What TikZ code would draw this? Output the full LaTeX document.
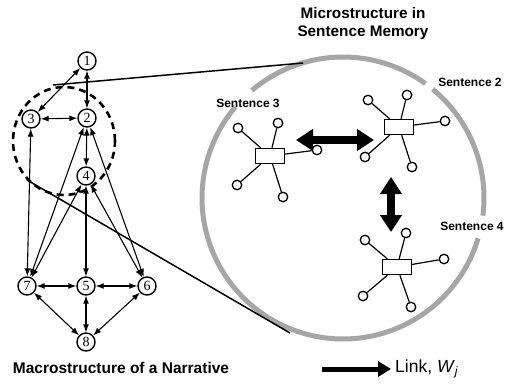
\documentclass[tikz,border=0pt]{standalone}
\usepackage{fontspec}
\setmainfont{Liberation Sans}
\newfontfamily\serifnum{Liberation Serif}
\usetikzlibrary{arrows.meta,shapes.geometric}
\begin{document}
\begin{tikzpicture}[x=1pt,y=-1pt,
  gnode/.style={draw, circle, line width=1.4pt, minimum size=18pt, inner sep=0pt, font=\serifnum\fontsize{14}{14}\selectfont},
  gedge/.style={{Latex[length=8pt,width=6pt]}-{Latex[length=8pt,width=6pt]}, line width=1.1pt},
  sbox/.style={draw, rectangle, line width=1.4pt, minimum width=29pt, minimum height=15pt, inner sep=0pt},
  sat/.style={draw, circle, line width=1.3pt, minimum size=9.5pt, inner sep=0pt},
  spoke/.style={line width=1.2pt},
  bigarrow/.style={line width=8pt, {Triangle[length=17pt,width=21pt]}-{Triangle[length=17pt,width=21pt]}},
  lbl/.style={font=\bfseries\fontsize{12}{12}\selectfont, inner sep=0pt},
  ttl/.style={font=\bfseries\fontsize{15.3}{18}\selectfont, align=center, inner sep=0pt},
  conn/.style={line width=1.5pt},
  halo/.style={line width=5pt, black!35},
]
\useasboundingbox (0,0) rectangle (506,391);

% big memory circle (broken where labels sit)
\draw[halo] plot[domain=-130.3:-54.2, samples=60] ({343+141*cos(\x)},{198+141*sin(\x)});
\draw[halo] plot[domain=16.6:220.4, samples=120] ({343+141*cos(\x)},{198+141*sin(\x)});
\draw[halo] plot[domain=-50.5:7.2, samples=60] ({343+141*cos(\x)},{198+141*sin(\x)});

% macrostructure graph
\node[gnode] (n1) at (87,61) {1};
\node[gnode] (n2) at (87,118) {2};
\node[gnode] (n3) at (31,119) {3};
\node[gnode] (n4) at (86,176) {4};
\node[gnode] (n5) at (86,286) {5};
\node[gnode] (n6) at (147,286) {6};
\node[gnode] (n7) at (27,286) {7};
\node[gnode] (n8) at (86,342) {8};

\foreach \a/\b in {n1/n3, n1/n2, n3/n2, n2/n4, n3/n7, n2/n7, n4/n7, n2/n6, n4/n6, n4/n5, n7/n5, n5/n6, n7/n8, n5/n8, n6/n8}
  \draw[gedge] (\a) -- (\b);

% dashed focus ellipse
\node[draw, ellipse, dashed, dash pattern=on 7pt off 5pt, line width=2.6pt, minimum width=102pt, minimum height=108pt] (foc) at (64,141) {};

% zoom connectors
\coordinate (e1) at (53,85);
\coordinate (c1) at (303,63);
\coordinate (e2) at (27,180);
\coordinate (c2) at (290,333);
\draw[conn] (e1) -- (c1);
\draw[conn] (e2) -- (c2);

% sentence 3 cluster
\node[sbox] (r3) at (270,156) {};
\node[sat] (s3a) at (238,128) {};
\node[sat] (s3b) at (278,123) {};
\node[sat] (s3c) at (317,150) {};
\node[sat] (s3d) at (237,185) {};
\node[sat] (s3e) at (283,197) {};
\foreach \s in {s3a,s3b,s3c,s3d,s3e} \draw[spoke] (r3) -- (\s);

% sentence 2 cluster
\node[sbox] (r2) at (399,127) {};
\node[sat] (s2a) at (368,100) {};
\node[sat] (s2b) at (407,95) {};
\node[sat] (s2c) at (445,121) {};
\node[sat] (s2d) at (365,157) {};
\node[sat] (s2e) at (412,167) {};
\foreach \s in {s2a,s2b,s2c,s2d,s2e} \draw[spoke] (r2) -- (\s);

% sentence 4 cluster
\node[sbox] (r4) at (397,267) {};
\node[sat] (s4a) at (365,240) {};
\node[sat] (s4b) at (406,233) {};
\node[sat] (s4c) at (444,259) {};
\node[sat] (s4d) at (363,296) {};
\node[sat] (s4e) at (411,307) {};
\foreach \s in {s4a,s4b,s4c,s4d,s4e} \draw[spoke] (r4) -- (\s);

% thick links
\coordinate (h1) at (296,140);
\coordinate (h2) at (374,140);
\coordinate (v1) at (391,177);
\coordinate (v2) at (391,232);
\draw[bigarrow] (h1) -- (h2);
\draw[bigarrow] (v1) -- (v2);

% labels
\node[ttl] (title) at (363,24) {Microstructure in\\Sentence Memory};
\node[lbl] (l3) at (248,103) {Sentence 3};
\node[lbl] (l2) at (470,82) {Sentence 2};
\node[lbl] (l4) at (472,226) {Sentence 4};
\node[font=\bfseries\fontsize{15.5}{15.5}\selectfont, inner sep=0pt] (macro) at (121,368) {Macrostructure of a Narrative};

% legend
\node[anchor=west, inner sep=0pt, font=\fontsize{17.5}{17.5}\selectfont] (link) at (395,369) {Link, \textit{W}\textsubscript{\textit{j}}};
\coordinate (la) at (322,369);
\coordinate (lb) at (391,369);
\draw[line width=5pt, -{Triangle[length=13pt,width=15pt]}] (la) -- (lb);
\end{tikzpicture}
\end{document}
